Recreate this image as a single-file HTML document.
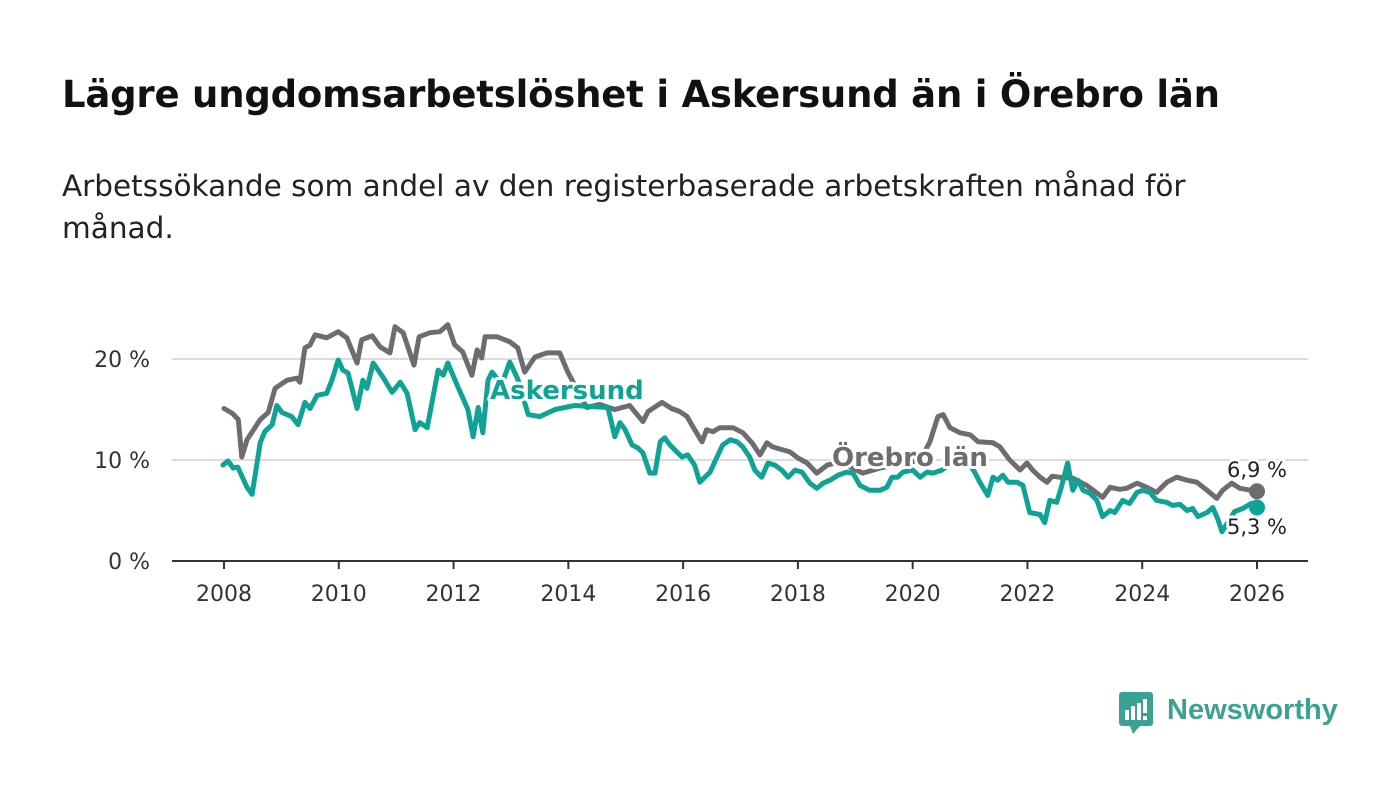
<!DOCTYPE html>
<html><head><meta charset="utf-8">
<style>
html,body{margin:0;padding:0;background:#fff;width:1400px;height:794px;overflow:hidden;font-family:"Liberation Sans","DejaVu Sans",sans-serif;}
h1{position:absolute;left:62px;top:73px;margin:0;font-size:37px;font-weight:bold;color:#111;font-family:"DejaVu Sans","Liberation Sans",sans-serif;letter-spacing:-0.2px}
.sub{position:absolute;left:62px;top:165px;width:1190px;font-size:29.5px;line-height:42px;color:#222;font-family:"DejaVu Sans","Liberation Sans",sans-serif;}
svg{position:absolute;left:0;top:0}
</style></head><body>
<h1>Lägre ungdomsarbetslöshet i Askersund än i Örebro län</h1>
<div class="sub">Arbetssökande som andel av den registerbaserade arbetskraften månad för månad.</div>
<svg id="chart" width="1400" height="794"></svg>
<script>
const yTicks=[0,10,20];
const yTickLabels=["0 %","10 %","20 %"];
const xTicks=[2008,2010,2012,2014,2016,2018,2020,2022,2024,2026];
const orebroYears=[2008.0,2008.15,2008.25,2008.31,2008.4,2008.63,2008.77,2008.89,2009.1,2009.27,2009.32,2009.41,2009.5,2009.59,2009.79,2009.99,2010.14,2010.32,2010.4,2010.58,2010.72,2010.89,2010.98,2011.12,2011.31,2011.4,2011.59,2011.76,2011.9,2012.02,2012.16,2012.32,2012.41,2012.49,2012.55,2012.76,2012.98,2013.12,2013.24,2013.42,2013.63,2013.85,2013.99,2014.32,2014.55,2014.81,2015.07,2015.3,2015.39,2015.63,2015.8,2015.94,2016.07,2016.17,2016.33,2016.41,2016.52,2016.64,2016.87,2017.04,2017.2,2017.34,2017.46,2017.56,2017.86,2018.0,2018.16,2018.33,2018.51,2018.73,2019.13,2019.43,2019.78,2020.13,2020.3,2020.44,2020.53,2020.65,2020.82,2021.0,2021.14,2021.4,2021.52,2021.69,2021.87,2021.99,2022.09,2022.22,2022.34,2022.43,2022.56,2022.79,2023.03,2023.31,2023.44,2023.61,2023.73,2023.91,2024.08,2024.25,2024.43,2024.6,2024.78,2024.95,2025.13,2025.3,2025.4,2025.56,2025.7,2026.0];
const orebroValues=[15.1,14.6,14.0,10.3,12.0,14.0,14.7,17.1,17.9,18.1,17.7,21.1,21.4,22.4,22.1,22.7,22.1,19.6,21.9,22.3,21.2,20.6,23.2,22.6,19.4,22.2,22.6,22.7,23.4,21.4,20.7,18.4,20.9,20.1,22.2,22.2,21.7,21.1,18.7,20.2,20.6,20.6,18.7,15.2,15.5,15.0,15.4,13.8,14.8,15.7,15.1,14.8,14.3,13.3,11.8,13.0,12.8,13.2,13.2,12.7,11.7,10.5,11.7,11.3,10.8,10.2,9.7,8.7,9.5,9.8,8.7,9.2,9.6,10.0,11.8,14.3,14.5,13.2,12.7,12.5,11.8,11.7,11.3,10.0,9.0,9.7,9.0,8.3,7.8,8.4,8.3,8.2,7.5,6.3,7.3,7.1,7.2,7.7,7.3,6.8,7.8,8.3,8.0,7.8,7.0,6.2,7.0,7.7,7.2,6.9];
const askYears=[2007.98,2008.07,2008.16,2008.24,2008.4,2008.49,2008.63,2008.71,2008.84,2008.92,2009.01,2009.18,2009.29,2009.41,2009.5,2009.62,2009.79,2009.88,2009.99,2010.07,2010.16,2010.32,2010.42,2010.49,2010.6,2010.77,2010.93,2011.07,2011.19,2011.33,2011.41,2011.54,2011.73,2011.82,2011.9,2012.08,2012.25,2012.34,2012.43,2012.51,2012.6,2012.67,2012.84,2012.98,2013.12,2013.3,2013.5,2013.77,2014.11,2014.38,2014.69,2014.81,2014.9,2014.99,2015.11,2015.21,2015.3,2015.42,2015.51,2015.6,2015.68,2015.77,2015.89,2015.98,2016.08,2016.2,2016.29,2016.38,2016.47,2016.59,2016.69,2016.82,2016.94,2017.04,2017.16,2017.25,2017.37,2017.48,2017.6,2017.72,2017.83,2017.95,2018.07,2018.21,2018.33,2018.44,2018.56,2018.7,2018.85,2018.96,2019.08,2019.25,2019.43,2019.55,2019.64,2019.74,2019.83,2020.0,2020.13,2020.25,2020.35,2020.51,2020.74,2021.0,2021.08,2021.17,2021.31,2021.4,2021.48,2021.57,2021.66,2021.82,2021.92,2022.04,2022.22,2022.3,2022.39,2022.51,2022.6,2022.7,2022.79,2022.88,2022.97,2023.09,2023.21,2023.31,2023.44,2023.52,2023.66,2023.78,2023.91,2024.01,2024.13,2024.25,2024.43,2024.53,2024.66,2024.78,2024.88,2024.97,2025.13,2025.23,2025.32,2025.39,2025.61,2025.75,2025.9,2026.0];
const askValues=[9.5,9.9,9.2,9.3,7.3,6.6,11.7,12.8,13.5,15.4,14.7,14.3,13.5,15.7,15.1,16.4,16.6,17.9,19.9,18.9,18.6,15.1,17.9,17.1,19.6,18.2,16.7,17.7,16.6,13.0,13.7,13.2,18.9,18.4,19.6,17.2,15.0,12.3,15.2,12.7,17.9,18.7,17.5,19.7,18.0,14.5,14.3,15.0,15.4,15.3,15.2,12.3,13.7,13.0,11.5,11.2,10.7,8.7,8.7,11.8,12.2,11.5,10.8,10.3,10.5,9.5,7.8,8.3,8.8,10.3,11.5,12.0,11.8,11.3,10.3,9.0,8.3,9.7,9.5,9.0,8.3,9.0,8.8,7.7,7.2,7.7,8.0,8.5,8.8,8.7,7.5,7.0,7.0,7.3,8.3,8.3,8.8,9.0,8.3,8.8,8.7,9.0,10.0,9.5,8.8,7.8,6.5,8.3,8.0,8.5,7.8,7.8,7.5,4.8,4.6,3.8,6.0,5.8,7.5,9.7,7.0,8.0,7.0,6.7,6.0,4.4,5.0,4.8,6.0,5.7,6.8,7.0,6.8,6.0,5.8,5.5,5.6,5.0,5.2,4.4,4.8,5.3,4.1,2.9,4.9,5.2,5.7,5.3];

const NS="http://www.w3.org/2000/svg";
const svg=document.getElementById('chart');
const xScale=y=>224+(y-2008)*(1257-224)/18;
const yScale=v=>561-v*10.1;
function mk(tag,attrs){const e=document.createElementNS(NS,tag);for(const k in attrs)e.setAttribute(k,attrs[k]);svg.appendChild(e);return e;}

yTicks.forEach((t,i)=>{
  if(t>0){const g=mk('line',{x1:172,x2:1308,y1:yScale(t),y2:yScale(t),stroke:'#dcdcdc','stroke-width':2});
  
  }
  const l=mk('text',{x:150,y:yScale(t)+8,'text-anchor':'end','font-size':22,fill:'#333','font-family':'DejaVu Sans, Liberation Sans, sans-serif'});
  l.textContent=yTickLabels[i];
  
  
});
const ax=mk('line',{x1:172,x2:1308,y1:561,y2:561,stroke:'#333','stroke-width':2});


xTicks.forEach(t=>{
  const tk=mk('line',{x1:xScale(t),x2:xScale(t),y1:561,y2:569,stroke:'#333','stroke-width':2});
  
  
  const l=mk('text',{x:xScale(t),y:601,'text-anchor':'middle','font-size':22,fill:'#333','font-family':'DejaVu Sans, Liberation Sans, sans-serif'});
  l.textContent=t;
  
  
});
function path(xs,vs,col,name){
  const d=xs.map((x,i)=>(i?'L':'M')+xScale(x).toFixed(1)+','+yScale(vs[i]).toFixed(1)).join('');
  const p=mk('path',{d:d,fill:'none',stroke:col,'stroke-width':5,'stroke-linejoin':'round','stroke-linecap':'round'});
  
  
}
path(orebroYears,orebroValues,'#6d6c70','orebro-line');
path(askYears,askValues,'#0ea395','askersund-line');
const d1=mk('circle',{cx:xScale(orebroYears[orebroYears.length-1]),cy:yScale(orebroValues[orebroValues.length-1]),r:8,fill:'#6d6c70'});


const d2=mk('circle',{cx:xScale(askYears[askYears.length-1]),cy:yScale(askValues[askValues.length-1]),r:8,fill:'#0ea395'});


function lbl(txt,x,y,col,size,weight,anchor,name){
  const t=mk('text',{x:x,y:y,fill:col,'font-size':size,'font-weight':weight,'text-anchor':anchor,stroke:'#fff','stroke-width':6,'paint-order':'stroke','stroke-linejoin':'round','font-family':'DejaVu Sans, Liberation Sans, sans-serif'});
  t.textContent=txt;
  
  
}
lbl('Askersund',490,399,'#0ea395',26,'bold','start','askersund-label');
lbl('Örebro län',832,466,'#6d6c70',26,'bold','start','orebro-label');
lbl(orebroValues[orebroValues.length-1].toFixed(1).replace('.',',')+' %',1257,477,'#222',21,'normal','middle','orebro-end-value');
lbl(askValues[askValues.length-1].toFixed(1).replace('.',',')+' %',1257,534,'#222',21,'normal','middle','askersund-end-value');
</script>
<svg width="1400" height="794" style="position:absolute;left:0;top:0;pointer-events:none">
  <rect x="1119" y="692" width="34" height="34" rx="3" fill="#3aa295"/>
  <polygon points="1130,726 1140,726 1133,734" fill="#3aa295"/>
  <rect x="1125" y="710" width="4" height="10" fill="#fff"/>
  <rect x="1131" y="706" width="4" height="14" fill="#fff"/>
  <rect x="1137" y="703" width="4" height="17" fill="#fff"/>
  <rect x="1143" y="699" width="4" height="14" fill="#fff"/>
  <rect x="1143" y="716" width="4" height="4" fill="#fff"/>
  <text x="1167" y="719" font-size="29" font-weight="bold" fill="#3aa295" font-family="Liberation Sans, sans-serif">Newsworthy</text>
</svg>
</body></html>
